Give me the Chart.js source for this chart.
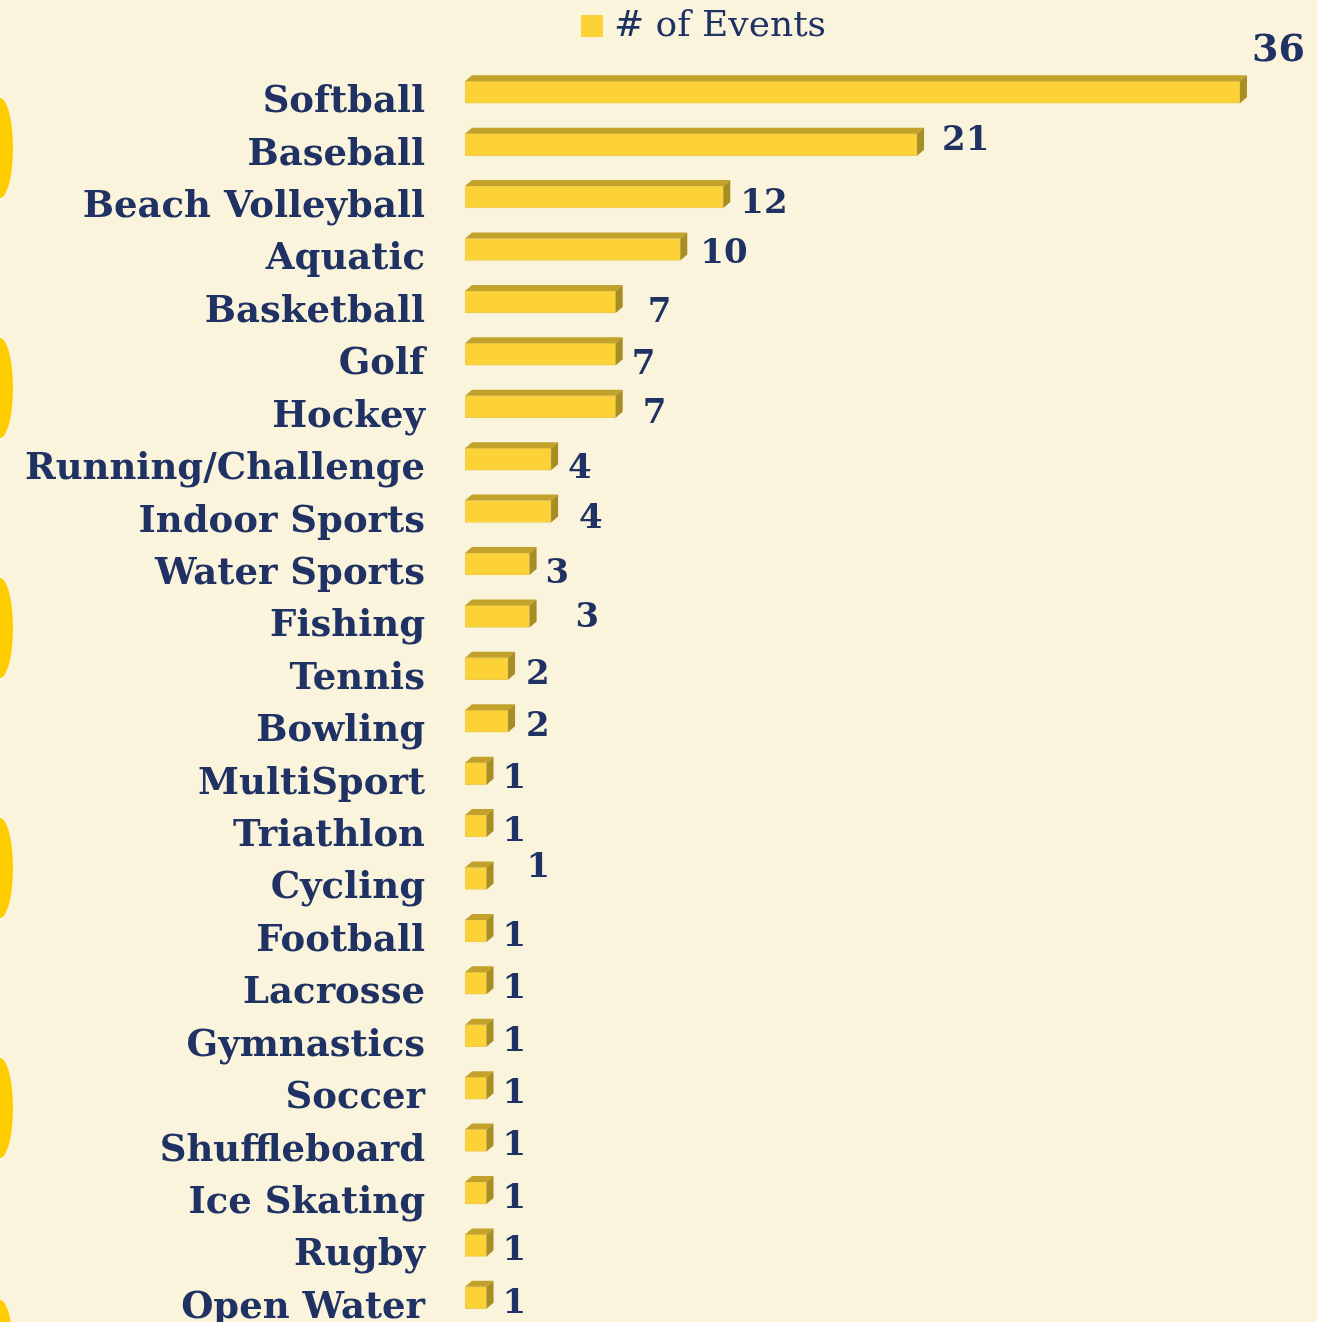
<!DOCTYPE html>
<html><head><meta charset="utf-8">
<script src="https://cdn.jsdelivr.net/npm/chart.js@4.4.1/dist/chart.umd.min.js"></script>
<style>html,body{margin:0;padding:0;background:#FAF4DC;overflow:hidden}</style>
</head><body>
<canvas id="c" width="1317" height="1324"></canvas>
<script>
const categories = ['Softball','Baseball','Beach Volleyball','Aquatic','Basketball','Golf','Hockey','Running/Challenge','Indoor Sports','Water Sports','Fishing','Tennis','Bowling','MultiSport','Triathlon','Cycling','Football','Lacrosse','Gymnastics','Soccer','Shuffleboard','Ice Skating','Rugby','Open Water'];
const eventCounts = [36,21,12,10,7,7,7,4,4,3,3,2,2,1,1,1,1,1,1,1,1,1,1,1];
const seriesLabel = '# of Events';
// hand-placed value label nudges (px) as in the original
const labelDx = [5,18,10,13,25,9,20,10,21,9,39,11,11,9,9,33,9,9,9,9,9,9,9,9];
const labelDy = [-44,-6,4,2,8,8,4,7,5,7,-1,3,3,3,3,-13,3,3,3,3,3,3,3,3];

const NAVY = '#1F3263';
const FRONT = '#FCD236';
const TOP = '#C2A22A';
const SIDE = '#A88D22';
const DX = 7, DY = 6;

const bgPlugin = {
  id: 'bg',
  beforeDraw(chart) {
    const ctx = chart.ctx;
    ctx.save();
    ctx.fillStyle = '#FAF4DC';
    ctx.fillRect(0, 0, chart.width, chart.height);
    ctx.fillStyle = '#FFCC00';
    [148, 388, 628, 868, 1108, 1350].forEach(cy => {
      ctx.beginPath();
      ctx.ellipse(0, cy, 13, 50, 0, 0, Math.PI * 2);
      ctx.fill();
    });
    // category labels, placed by the y scale
    const ys = chart.scales.y;
    ctx.fillStyle = NAVY;
    ctx.font = 'bold 37px "DejaVu Serif"';
    ctx.textAlign = 'right';
    ctx.textBaseline = 'alphabetic';
    chart.data.labels.forEach((lab, i) => {
      ctx.fillText(lab, ys.right - 40, ys.getPixelForValue(i) + 20);
    });
    ctx.restore();
  }
};

const cubePlugin = {
  id: 'cube',
  afterDatasetsDraw(chart) {
    const ctx = chart.ctx;
    const meta = chart.getDatasetMeta(0);
    ctx.save();
    meta.data.forEach((el, i) => {
      const p = el.getProps(['x', 'y', 'base', 'height'], true);
      const top = p.y - p.height / 2, bot = p.y + p.height / 2;
      ctx.fillStyle = TOP;
      ctx.beginPath();
      ctx.moveTo(p.base, top);
      ctx.lineTo(p.base + DX, top - DY);
      ctx.lineTo(p.x + DX, top - DY);
      ctx.lineTo(p.x, top);
      ctx.closePath();
      ctx.fill();
      ctx.fillStyle = SIDE;
      ctx.beginPath();
      ctx.moveTo(p.x, top);
      ctx.lineTo(p.x + DX, top - DY);
      ctx.lineTo(p.x + DX, bot - DY);
      ctx.lineTo(p.x, bot);
      ctx.closePath();
      ctx.fill();
      // value label
      ctx.fillStyle = NAVY;
      ctx.font = (i === 0 ? 'bold 38px' : 'bold 34px') + ' "DejaVu Serif"';
      ctx.textAlign = 'left';
      ctx.textBaseline = 'middle';
      ctx.fillText(String(chart.data.datasets[0].data[i]), p.x + DX + labelDx[i], p.y + labelDy[i] + 3);
    });
    // legend
    ctx.fillStyle = FRONT;
    ctx.fillRect(581, 15, 22, 22);
    ctx.fillStyle = NAVY;
    ctx.font = '36px "DejaVu Serif"';
    ctx.textAlign = 'left';
    ctx.textBaseline = 'middle';
    ctx.fillText(chart.data.datasets[0].label, 614, 27);
    ctx.restore();
  }
};

new Chart(document.getElementById('c'), {
  type: 'bar',
  data: {
    labels: categories,
    datasets: [{
      label: seriesLabel,
      data: eventCounts,
      backgroundColor: FRONT,
      borderColor: '#EACB50',
      borderWidth: 1,
      borderSkipped: false,
      barThickness: 22
    }]
  },
  options: {
    indexAxis: 'y',
    responsive: false,
    animation: false,
    layout: { padding: { top: 66, right: 34, bottom: 0, left: 0 } },
    plugins: { legend: { display: false }, tooltip: { enabled: false } },
    scales: {
      x: { min: 0, max: 38, display: false },
      y: {
        grid: { display: false, drawTicks: false },
        border: { display: false },
        ticks: { display: false, autoSkip: false },
        afterFit(scale) {
          scale.width = 465;
          scale.paddingTop = 0;
          scale.paddingBottom = 0;
        }
      }
    }
  },
  plugins: [bgPlugin, cubePlugin]
});
</script>
</body></html>
